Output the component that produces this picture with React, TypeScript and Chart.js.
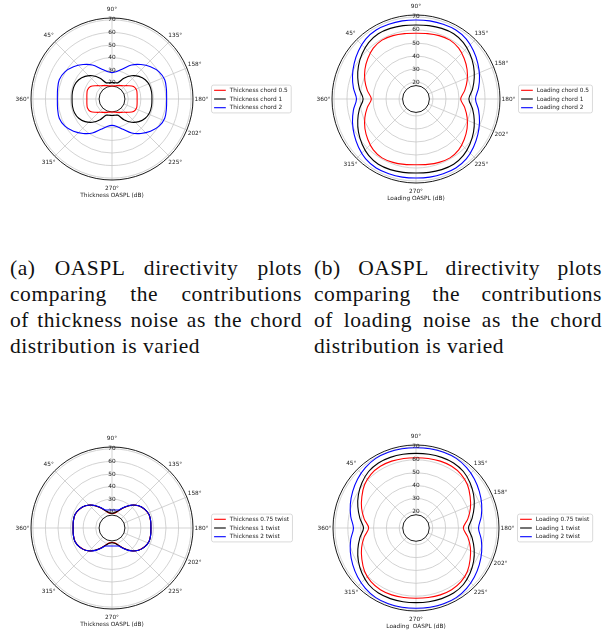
import React, { useEffect, useRef } from 'react';
import { Chart, registerables } from 'chart.js';

Chart.register(...registerables);

// Sample directions (degrees, measured clockwise from the "360°" direction on the left)
const sampleAngles = [0, 10, 20, 30, 40, 50, 60, 70, 80, 90, 100, 110, 120, 130, 140, 150, 160, 170,
  180, 190, 200, 210, 220, 230, 240, 250, 260, 270, 280, 290, 300, 310, 320, 330, 340, 350];

// Angular tick directions and their labels
const angleTickValues = [90, 135, 157.5, 180, 202.5, 225, 270, 315, 360, 45];
const angleTickLabels = ['90°', '135°', '158°', '180°', '202°', '225°', '270°', '315°', '360°', '45°'];

// Radial tick labels (dB)
const radialTicks = [20, 30, 40, 50, 60, 70];
const rMin = 7;
const rMax = 71.5;
const rHole = 17.3;

// (a) Thickness OASPL, chord
const thickChord05 = [27.0, 27.3, 27.8, 26.8, 23.5, 20.8, 19.3, 18.3, 17.6, 17.4, 17.6, 18.3, 19.3, 20.8, 23.5, 26.8, 27.8, 27.3,
  27.0, 27.3, 27.8, 26.8, 23.5, 20.8, 19.3, 18.3, 17.6, 17.4, 17.6, 18.3, 19.3, 20.8, 23.5, 26.8, 27.8, 27.3];
const thickChord1 = [38.8, 39.0, 38.8, 37.6, 35.0, 31.1, 26.0, 20.8, 20.2, 20.1, 20.2, 20.8, 26.0, 31.1, 35.0, 37.6, 38.8, 39.0,
  38.8, 39.0, 38.8, 37.6, 35.0, 31.1, 26.0, 20.8, 20.2, 20.1, 20.2, 20.8, 26.0, 31.1, 35.0, 37.6, 38.8, 39.0];
const thickChord2 = [50.5, 51.0, 51.7, 50.3, 47.0, 42.8, 38.3, 32.7, 29.2, 28.0, 29.2, 32.7, 38.3, 42.8, 47.0, 50.3, 51.7, 51.0,
  50.5, 51.0, 51.7, 50.3, 47.0, 42.8, 38.3, 32.7, 29.2, 28.0, 29.2, 32.7, 38.3, 42.8, 47.0, 50.3, 51.7, 51.0];

// (b) Loading OASPL, chord
const loadChord05 = [41.3, 45.0, 48.8, 52.3, 55.3, 58.0, 59.2, 58.8, 58.0, 57.5, 58.0, 58.8, 59.2, 58.0, 55.3, 52.3, 48.8, 45.0,
  41.3, 45.0, 48.8, 52.3, 55.3, 58.0, 59.2, 58.8, 58.0, 57.5, 58.0, 58.8, 59.2, 58.0, 55.3, 52.3, 48.8, 45.0];
const loadChord1 = [47.6, 51.1, 54.6, 58.0, 61.0, 63.6, 64.9, 64.7, 64.2, 63.8, 64.2, 64.7, 64.9, 63.6, 61.0, 58.0, 54.6, 51.1,
  47.6, 51.1, 54.6, 58.0, 61.0, 63.6, 64.9, 64.7, 64.2, 63.8, 64.2, 64.7, 64.9, 63.6, 61.0, 58.0, 54.6, 51.1];
const loadChord2 = [52.7, 55.8, 58.9, 61.8, 64.6, 67.1, 68.2, 68.1, 67.9, 67.7, 67.9, 68.1, 68.2, 67.1, 64.6, 61.8, 58.9, 55.8,
  52.7, 55.8, 58.9, 61.8, 64.6, 67.1, 68.2, 68.1, 67.9, 67.7, 67.9, 68.1, 68.2, 67.1, 64.6, 61.8, 58.9, 55.8];

// (c) Thickness OASPL, twist
const thickTwist075 = [37.9, 38.2, 38.3, 36.9, 34.5, 30.6, 25.6, 21.3, 19.0, 18.5, 19.0, 21.3, 25.6, 30.6, 34.5, 36.9, 38.3, 38.2,
  37.9, 38.2, 38.3, 36.9, 34.5, 30.6, 25.6, 21.3, 19.0, 18.5, 19.0, 21.3, 25.6, 30.6, 34.5, 36.9, 38.3, 38.2];
const thickTwist1 = [38.0, 38.3, 38.4, 37.0, 34.6, 30.7, 25.8, 21.6, 19.4, 18.8, 19.4, 21.6, 25.8, 30.7, 34.6, 37.0, 38.4, 38.3,
  38.0, 38.3, 38.4, 37.0, 34.6, 30.7, 25.8, 21.6, 19.4, 18.8, 19.4, 21.6, 25.8, 30.7, 34.6, 37.0, 38.4, 38.3];
const thickTwist2 = [38.0, 38.3, 38.4, 37.0, 34.6, 30.8, 26.1, 22.3, 21.6, 21.3, 21.6, 22.3, 26.1, 30.8, 34.6, 37.0, 38.4, 38.3,
  38.0, 38.3, 38.4, 37.0, 34.6, 30.8, 26.1, 22.3, 21.6, 21.3, 21.6, 22.3, 26.1, 30.8, 34.6, 37.0, 38.4, 38.3];

// (d) Loading OASPL, twist
const loadTwist075 = [43.8, 47.9, 52.0, 55.6, 59.2, 61.5, 62.4, 62.3, 61.9, 61.6, 61.9, 62.3, 62.4, 61.5, 59.2, 55.6, 52.0, 47.9,
  43.8, 47.9, 52.0, 55.6, 59.2, 61.5, 62.4, 62.3, 61.9, 61.6, 61.9, 62.3, 62.4, 61.5, 59.2, 55.6, 52.0, 47.9];
const loadTwist1 = [47.8, 51.3, 55.1, 58.7, 61.8, 64.3, 65.4, 65.4, 65.2, 65.0, 65.2, 65.4, 65.4, 64.3, 61.8, 58.7, 55.1, 51.3,
  47.8, 51.3, 55.1, 58.7, 61.8, 64.3, 65.4, 65.4, 65.2, 65.0, 65.2, 65.4, 65.4, 64.3, 61.8, 58.7, 55.1, 51.3];
const loadTwist2 = [55.6, 58.5, 61.3, 63.8, 66.2, 68.2, 69.5, 69.7, 69.5, 69.4, 69.5, 69.7, 69.5, 68.2, 66.2, 63.8, 61.3, 58.5,
  55.6, 58.5, 61.3, 63.8, 66.2, 68.2, 69.5, 69.7, 69.5, 69.4, 69.5, 69.7, 69.5, 68.2, 66.2, 63.8, 61.3, 58.5];

const captionA = ['(a) OASPL directivity plots', 'comparing the contributions', 'of thickness noise as the chord', 'distribution is varied'];
const captionB = ['(b) OASPL directivity plots', 'comparing the contributions', 'of loading noise as the chord', 'distribution is varied'];

const COLORS = ['#ff0000', '#000000', '#0000ff'];
const GRID = '#c8c8c8';
const TEXT = '#222222';
const FONT = 'DejaVu Sans';
const FS = 5.8;

// Angular resolution of the radar category axis
const STEP = 2.5;
const N = Math.round(360 / STEP);
const catLabels = Array.from({ length: N }, (_, i) => String((90 + i * STEP) % 360));
const indexOfAngle = (a: number) => Math.round((((a - 90) % 360) + 360) % 360 / STEP);
const spokeSet = new Set(angleTickValues.map(indexOfAngle));

function toRadar(values: number[]) {
  const arr: (number | null)[] = new Array(N).fill(null);
  sampleAngles.forEach((a, k) => {
    arr[indexOfAngle(a)] = values[k];
  });
  return arr;
}

const decorPlugin = {
  id: 'polarDecor',
  beforeDatasetsDraw(chart: any) {
    const s = chart.scales.r;
    const ctx = chart.ctx;
    ctx.save();
    const rh = s.getDistanceFromCenterForValue(rHole);
    ctx.beginPath();
    ctx.arc(s.xCenter, s.yCenter, rh, 0, Math.PI * 2);
    ctx.fillStyle = '#ffffff';
    ctx.fill();
    ctx.strokeStyle = '#000000';
    ctx.lineWidth = 0.9;
    ctx.stroke();
    const ro = s.getDistanceFromCenterForValue(rMax);
    ctx.beginPath();
    ctx.arc(s.xCenter, s.yCenter, ro, 0, Math.PI * 2);
    ctx.stroke();
    ctx.restore();
  },
  afterDraw(chart: any, _args: any, opts: any) {
    const s = chart.scales.r;
    const ctx = chart.ctx;
    const R = s.drawingArea;
    ctx.save();
    ctx.font = `${FS}px "${FONT}"`;
    ctx.fillStyle = TEXT;
    ctx.textAlign = 'center';
    ctx.textBaseline = 'middle';
    angleTickValues.forEach((a, k) => {
      const p = s.getPointPosition(indexOfAngle(a), R + 8.5);
      ctx.fillText(angleTickLabels[k], p.x, p.y);
    });
    ctx.fillText(opts.title, s.xCenter, s.yCenter + R + 15.5);

    // legend
    const ds = chart.data.datasets;
    let tw = 0;
    ds.forEach((d: any) => { tw = Math.max(tw, ctx.measureText(d.label).width); });
    const bx = s.xCenter + R + 18.5;
    const bw = 18.3 + tw + 3.5;
    const rowH = 8.7;
    const bh = rowH * (ds.length - 1) + 10.4;
    const by = s.yCenter - bh / 2;
    ctx.beginPath();
    ctx.roundRect(bx, by, bw, bh, 2);
    ctx.fillStyle = 'rgba(255,255,255,0.8)';
    ctx.fill();
    ctx.strokeStyle = '#d0d0d0';
    ctx.lineWidth = 0.8;
    ctx.stroke();
    ctx.textAlign = 'left';
    ds.forEach((d: any, i: number) => {
      const y = s.yCenter + (i - (ds.length - 1) / 2) * rowH;
      ctx.beginPath();
      ctx.moveTo(bx + 2.6, y);
      ctx.lineTo(bx + 14.3, y);
      ctx.strokeStyle = d.borderColor;
      ctx.lineWidth = 1.1;
      ctx.stroke();
      ctx.fillStyle = TEXT;
      ctx.fillText(d.label, bx + 18.3, y);
    });
    ctx.restore();
  },
};

type Panel = {
  x: number; y: number; w: number; h: number;
  padding: { left: number; top: number; right: number; bottom: number };
  title: string;
  labels: string[];
  values: number[][];
};

const panels: Panel[] = [
  { x: 0, y: 0, w: 300, h: 215, padding: { left: 28, top: 15, right: 104, bottom: 32 }, title: 'Thickness OASPL (dB)',
    labels: ['Thickness chord 0.5', 'Thickness chord 1', 'Thickness chord 2'], values: [thickChord05, thickChord1, thickChord2] },
  { x: 300, y: 0, w: 308, h: 215, padding: { left: 29, top: 12, right: 105, bottom: 29 }, title: 'Loading OASPL (dB)',
    labels: ['Loading chord 0.5', 'Loading chord 1', 'Loading chord 2'], values: [loadChord05, loadChord1, loadChord2] },
  { x: 0, y: 420, w: 300, h: 215, padding: { left: 28, top: 24, right: 104, bottom: 23 }, title: 'Thickness OASPL (dB)',
    labels: ['Thickness 0.75 twist', 'Thickness 1 twist', 'Thickness 2 twist'], values: [thickTwist075, thickTwist1, thickTwist2] },
  { x: 300, y: 420, w: 308, h: 215, padding: { left: 30, top: 22, right: 106, bottom: 21 }, title: 'Loading  OASPL (dB)',
    labels: ['Loading 0.75 twist', 'Loading 1 twist', 'Loading 2 twist'], values: [loadTwist075, loadTwist1, loadTwist2] },
];

function PolarPanel({ p }: { p: Panel }) {
  const ref = useRef<HTMLCanvasElement | null>(null);
  useEffect(() => {
    if (!ref.current) return;
    const chart = new Chart(ref.current, {
      type: 'radar',
      data: {
        labels: catLabels,
        datasets: p.values.map((v, k) => ({
          label: p.labels[k],
          data: toRadar(v),
          borderColor: COLORS[k],
          backgroundColor: COLORS[k],
          borderWidth: 1.1,
          pointRadius: 0,
          pointHoverRadius: 0,
          fill: false,
          tension: 0.33,
          spanGaps: true,
          order: 3 - k,
        })),
      },
      options: {
        responsive: false,
        animation: false,
        events: [],
        layout: { padding: p.padding },
        plugins: {
          legend: { display: false },
          tooltip: { enabled: false },
          polarDecor: { title: p.title },
        } as any,
        scales: {
          r: {
            min: rMin,
            max: rMax,
            startAngle: 0,
            grid: { circular: true, color: GRID, lineWidth: 0.8 },
            angleLines: {
              display: true,
              color: GRID,
              lineWidth: (c: any) => (spokeSet.has(c.index) ? 0.8 : 0),
            },
            pointLabels: { display: false },
            ticks: {
              stepSize: 10,
              includeBounds: false,
              showLabelBackdrop: false,
              backdropPadding: 0,
              z: 1,
              color: TEXT,
              font: { family: FONT, size: FS },
              callback: (v: any) => (radialTicks.includes(Number(v)) ? String(v) : ''),
            },
          },
        } as any,
      },
      plugins: [decorPlugin],
    });
    return () => chart.destroy();
  }, [p]);
  return (
    <canvas
      ref={ref}
      width={p.w}
      height={p.h}
      style={{ position: 'absolute', left: p.x, top: p.y, width: p.w, height: p.h }}
    />
  );
}

function Caption({ lines, left, width }: { lines: string[]; left: number; width: number }) {
  return (
    <div style={{ position: 'absolute', left, top: 255, width, fontFamily: '"Liberation Serif", serif', fontSize: 21.5, letterSpacing: '0.55px', lineHeight: '26px', color: '#111' }}>
      {lines.map((l, i) => (
        <div key={i} style={{ textAlign: 'justify', textAlignLast: i < lines.length - 1 ? 'justify' : 'left' } as any}>{l}</div>
      ))}
    </div>
  );
}

export default function App() {
  return (
    <div style={{ position: 'absolute', left: 0, top: 0, width: 608, height: 635, background: '#fff', overflow: 'hidden' }}>
      {panels.map((p, i) => (
        <PolarPanel key={i} p={p} />
      ))}
      <Caption lines={captionA} left={10} width={292} />
      <Caption lines={captionB} left={314} width={288} />
    </div>
  );
}
